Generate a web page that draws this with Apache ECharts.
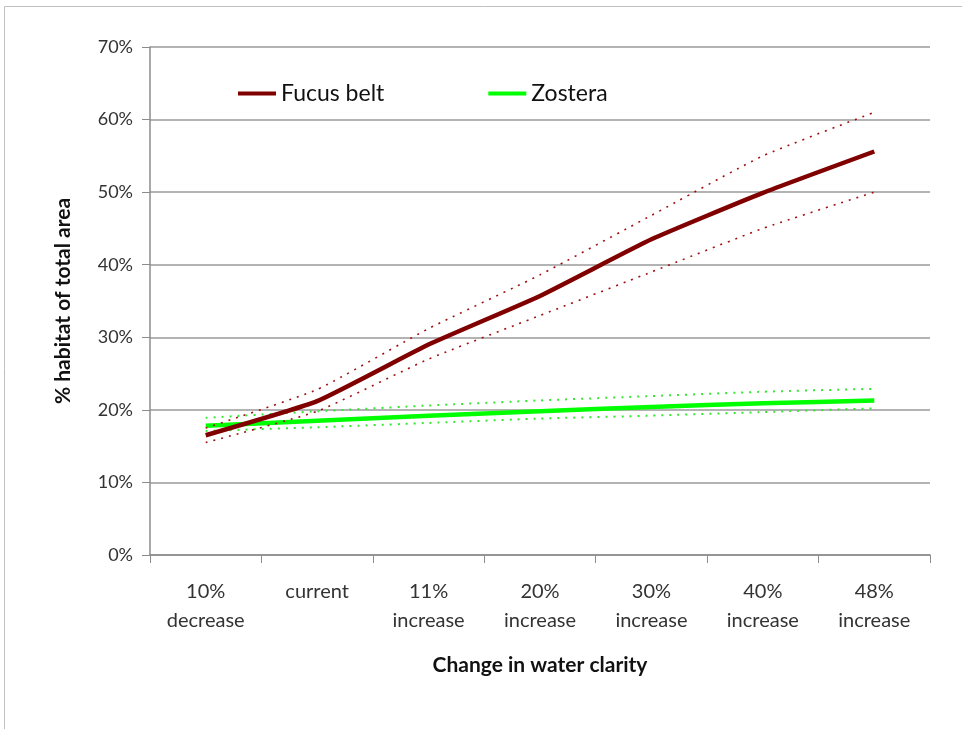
<!DOCTYPE html>
<html>
<head>
<meta charset="utf-8">
<script src="https://cdn.jsdelivr.net/npm/echarts@6/dist/echarts.min.js"></script>
<style>
html,body{margin:0;padding:0;background:#fff;}
#chart{width:962px;height:729px;}
</style>
</head>
<body>
<div id="chart"></div>
<script>
const categories = ['10%\ndecrease', 'current', '11%\nincrease', '20%\nincrease', '30%\nincrease', '40%\nincrease', '48%\nincrease'];
const fucus = [16.5, 21.2, 29.0, 35.7, 43.5, 49.9, 55.6];
const fucusUpper = [17.5, 22.8, 31.2, 38.6, 46.8, 55.0, 61.0];
const fucusLower = [15.5, 19.8, 27.0, 33.0, 39.0, 45.0, 50.0];
const zostera = [17.8, 18.5, 19.2, 19.8, 20.4, 20.9, 21.3];
const zosteraUpper = [18.9, 19.8, 20.6, 21.3, 21.9, 22.5, 22.9];
const zosteraLower = [17.1, 17.6, 18.2, 18.8, 19.2, 19.7, 20.2];

const FONT = 'Lato, "Open Sans", sans-serif';
const chart = echarts.init(document.getElementById('chart'), null, {renderer: 'canvas'});
chart.setOption({
  animation: false,
  backgroundColor: '#fff',
  graphic: [{
    type: 'rect', silent: true,
    shape: {x: 4.5, y: 6.5, width: 1000, height: 1000},
    style: {fill: 'none', stroke: '#c0c0c0', lineWidth: 1}
  }],
  grid: {left: 150, right: 32, top: 47, bottom: 174},
  legend: {
    data: ['Fucus belt', 'Zostera'],
    left: 233, top: 77,
    icon: 'rect', itemWidth: 38, itemHeight: 4, itemGap: 104,
    textStyle: {fontFamily: FONT, fontSize: 23, color: '#111'}
  },
  xAxis: {
    type: 'category',
    data: categories,
    boundaryGap: true,
    name: 'Change in water clarity',
    nameLocation: 'middle',
    nameGap: 100,
    nameTextStyle: {fontFamily: FONT, fontSize: 21, fontWeight: 'bold', color: '#111'},
    axisLine: {lineStyle: {color: '#8c8c8c', width: 1.5}},
    axisTick: {show: true, alignWithLabel: false, length: 8, lineStyle: {color: '#8c8c8c'}},
    axisLabel: {fontFamily: FONT, fontSize: 20, color: '#333', lineHeight: 29, margin: 22, interval: 0}
  },
  yAxis: {
    type: 'value',
    min: 0, max: 70, interval: 10,
    name: '% habitat of total area',
    nameLocation: 'middle',
    nameGap: 76,
    nameRotate: 90,
    nameTextStyle: {fontFamily: FONT, fontSize: 21, fontWeight: 'bold', color: '#111'},
    axisLine: {show: true, lineStyle: {color: '#8c8c8c', width: 1.5}},
    axisTick: {show: true, length: 8, lineStyle: {color: '#8c8c8c'}},
    axisLabel: {fontFamily: FONT, fontSize: 18, color: '#333', margin: 17, formatter: '{value}%'},
    splitLine: {show: true, lineStyle: {color: '#9a9a9a', width: 1.5}}
  },
  series: [
    {name: 'Zostera upper', type: 'line', data: zosteraUpper, smooth: 0.15, symbol: 'none',
     lineStyle: {color: '#33e633', width: 2, type: [2, 6]}},
    {name: 'Zostera lower', type: 'line', data: zosteraLower, smooth: 0.15, symbol: 'none',
     lineStyle: {color: '#33e633', width: 2, type: [2, 6]}},
    {name: 'Zostera', type: 'line', data: zostera, smooth: 0.15, symbol: 'none',
     itemStyle: {color: '#00ff00'},
     lineStyle: {color: '#00ff00', width: 4.5}},
    {name: 'Fucus upper', type: 'line', data: fucusUpper, smooth: 0.15, symbol: 'none',
     lineStyle: {color: '#a01010', width: 1.6, type: [2, 6]}},
    {name: 'Fucus lower', type: 'line', data: fucusLower, smooth: 0.15, symbol: 'none',
     lineStyle: {color: '#a01010', width: 1.6, type: [2, 6]}},
    {name: 'Fucus belt', type: 'line', data: fucus, smooth: 0.15, symbol: 'none',
     itemStyle: {color: '#800000'},
     lineStyle: {color: '#800000', width: 4.5}}
  ]
});
</script>
</body>
</html>
